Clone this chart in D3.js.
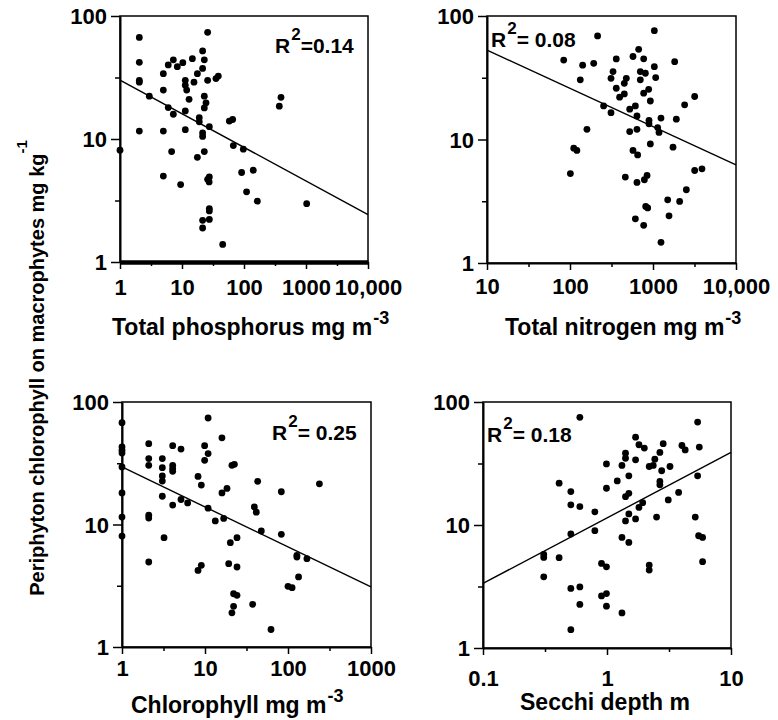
<!DOCTYPE html>
<html>
<head>
<meta charset="utf-8">
<script src="https://cdn.jsdelivr.net/npm/d3@7"></script>
<style>
  html, body { margin: 0; padding: 0; background: #fff; }
  svg { display: block; }
  text { font-family: "Liberation Sans", Arial, Helvetica, sans-serif; font-weight: bold; fill: #000; }
</style>
</head>
<body>
<svg id="chart" width="778" height="720"></svg>
<script>
// ---------- DATA ----------
// Panel A: Total phosphorus (mg m-3) vs periphyton chlorophyll
const tpX = [1,2.05,2.05,2.05,2.05,2.05,2.97,5.0,5.0,5.0,5.0,6.0,6.0,7.25,8.4,10.3,7.25,6.8,9.5,11.3,11.3,11.9,13,11.3,11.3,14.7,15.6,17.7,19,19,17.7,21.5,21.5,22.9,22.9,22.9,24.4,21.5,21.5,22.9,25.9,25.9,27.6,25.9,27.4,27.6,27.6,27.6,27.6,21.5,21.5,35.3,38.5,45.3,58,65.6,67.3,97.5,91.6,141,110,164,371,395,1025];
const tpY = [8.1,67,42,30,29,11.6,22.3,34,25,11.6,5.0,40,18,44,38.7,41.7,15.9,7.9,4.26,30,27.4,25,21,16.9,11.9,45,29,34,14.9,13.8,7.1,52,37.5,44,22.3,17.9,19.7,11.2,10.5,7.9,73.6,30,12.6,4.7,4.48,4.92,2.72,2.6,2.22,2.18,1.89,31,32.5,1.39,14,14.4,8.85,8.26,5.34,5.57,3.72,3.12,18.5,21.8,2.98];
const tpFitX = [1, 10000];
const tpFitY = [30.1, 2.43];

// Panel B: Total nitrogen (mg m-3)
const tnX = [84,101,111,121,133,142,160,193,215,254,312,312,330,361,361,396,451,451,477,464,524,524,574,613,574,613,641,641,653,641,672,703,703,772,772,809,787,772,848,817,863,887,895,895,929,929,1038,1038,1077,1138,1181,1248,1248,1503,1560,1742,1824,1910,2094,2405,2522,3177,3177,3891];
const tnY = [44,5.3,8.5,8.15,30.4,40,12.1,41.4,69,18.7,16.5,31.3,35.5,44.9,26,22,23.4,28.5,31.3,4.96,17.6,11.6,47,18.7,8.15,2.28,15.5,12.1,7.5,4.49,53.7,30.4,35.5,45,23.7,34.4,4.72,2.02,5.12,2.87,2.79,25.5,14.3,13.4,20.5,9.2,76,38.9,31.7,12.5,11.4,14.9,1.47,3.25,2.41,8.67,42.7,14.6,3.15,19.1,3.92,22.3,5.61,5.79];
const tnFitX = [10, 10000];
const tnFitY = [53, 6.24];

// Panel C: Chlorophyll (mg m-3)
const chlX = [1,1,1,1,1,1,1,1,2.1,2.1,2.1,2.1,2.1,2.1,3.06,3.06,3.06,3.06,3.06,3.21,4.08,4.08,4.08,4.08,4.08,5.14,5.14,6.18,8.24,8.24,9.03,9.03,9.9,9.9,10.9,10.9,10.9,13.3,16,16,16.8,18.4,19.3,20.2,21.1,21.1,22.6,22.1,24.3,22.1,24.3,24.3,37.5,39.3,41.5,43.1,47.7,62.4,83.1,83.1,100,112,128,128,134,169,239];
const chlY = [67.8,43,40.3,38.3,29.5,18.1,11.5,8.05,45.7,34.5,30.4,11.9,11.3,4.94,34.5,29.1,24.9,22.6,17,7.8,44,30.4,28.6,27.2,14.4,41.3,16,15,24.7,4.22,21,4.64,44,33.4,74,37.9,13.6,10.7,51,18.1,11.2,19.7,4.79,7.1,1.9,30.4,31,2.72,2.64,2.15,7.8,4.5,2.23,13.9,12.6,22.5,8.85,1.39,8.31,18.5,3.13,3.05,5.6,5.43,3.73,5.26,21.5];
const chlFitX = [1, 1000];
const chlFitY = [29.5, 3.09];

// Panel D: Secchi depth (m)
const secX = [0.309,0.309,0.309,0.411,0.411,0.511,0.511,0.511,0.511,0.511,0.604,0.604,0.604,0.604,0.798,0.798,0.903,0.903,0.99,0.99,0.99,0.99,0.99,1.21,1.32,1.32,1.32,1.41,1.41,1.41,1.41,1.5,1.5,1.5,1.5,1.7,1.7,1.7,1.81,1.81,1.94,2.0,2.19,2.19,2.19,2.36,2.43,2.51,2.67,2.67,2.67,2.76,2.84,3.12,3.22,3.78,4.02,4.27,5.15,5.38,5.38,5.55,5.48,5.9,5.9];
const secY = [5.77,5.45,3.79,21.9,5.42,18.7,14.6,8.45,3.05,1.41,75,14.1,3.14,2.26,12.8,9.0,4.87,2.65,31.4,19.9,4.57,2.77,2.19,22.8,30.5,7.93,1.93,38.4,34.9,17,10.8,25.1,18.1,12.3,7.22,51.8,33.9,11.2,44.9,13.9,15.2,42.2,29.9,4.72,4.3,30.5,34.3,11.6,38.9,22.6,21.2,27.6,45.8,16,29.9,18.4,44.3,40.8,11.6,68.7,25.1,43,8.18,7.93,5.03];
const secFitX = [0.1, 10];
const secFitY = [3.35, 38.9];

// Axis ticks and labels
const yMajor = [1, 10, 100];
const yMinor = [3.162, 31.62];
const tpTicks = [1, 10, 100, 1000, 10000];
const tpTickLabels = ["1", "10", "100", "1000", "10,000"];
const tpMinor = [3.162, 31.62, 316.2, 3162];
const tnTicks = [10, 100, 1000, 10000];
const tnTickLabels = ["10", "100", "1000", "10,000"];
const tnMinor = [31.62, 316.2, 3162];
const chlTicks = [1, 10, 100, 1000];
const chlTickLabels = ["1", "10", "100", "1000"];
const chlMinor = [3.162, 31.62, 316.2];
const secTicks = [0.1, 1, 10];
const secTickLabels = ["0.1", "1", "10"];
const secMinor = [0.3162, 3.162];

const r2Labels = ["=0.14", "= 0.08", "= 0.25", "= 0.18"];
const xTitles = ["Total phosphorus mg m", "Total nitrogen mg m", "Chlorophyll mg m", "Secchi depth m"];
const xTitleSups = ["-3", "-3", "-3", ""];
const yTitle = "Periphyton chlorophyll on macrophytes mg kg";
const yTitleSup = "-1";

// ---------- LAYOUT ----------
const panels = [
  { xs: tpX, ys: tpY, fx: tpFitX, fy: tpFitY, ticks: tpTicks, labels: tpTickLabels, minor: tpMinor,
    x0: 120, x1: 368, y0: 16, y1: 262, lblBase: 33, titleX: 112, titleY: 335, r2x: 275, r2y: 53, thick: true },
  { xs: tnX, ys: tnY, fx: tnFitX, fy: tnFitY, ticks: tnTicks, labels: tnTickLabels, minor: tnMinor,
    x0: 487, x1: 736, y0: 16, y1: 263, lblBase: 31, titleX: 505, titleY: 335, r2x: 491, r2y: 47, thick: false },
  { xs: chlX, ys: chlY, fx: chlFitX, fy: chlFitY, ticks: chlTicks, labels: chlTickLabels, minor: chlMinor,
    x0: 122, x1: 371, y0: 402, y1: 647, lblBase: 29, titleX: 131, titleY: 713, r2x: 272, r2y: 440, thick: false },
  { xs: secX, ys: secY, fx: secFitX, fy: secFitY, ticks: secTicks, labels: secTickLabels, minor: secMinor,
    x0: 483, x1: 731, y0: 402, y1: 648, lblBase: 38, titleX: 520, titleY: 710, r2x: 487, r2y: 442, thick: false }
];

const svg = d3.select("#chart");

panels.forEach((p, i) => {
  const x = d3.scaleLog().domain([p.ticks[0], p.ticks[p.ticks.length - 1]]).range([p.x0, p.x1]);
  const y = d3.scaleLog().domain([1, 100]).range([p.y1, p.y0]);
  const g = svg.append("g");

  // frame
  g.append("rect").attr("x", p.x0).attr("y", p.y0).attr("width", p.x1 - p.x0).attr("height", p.y1 - p.y0)
    .attr("fill", "none").attr("stroke", "#000").attr("stroke-width", 1.5);

  // y axis major
  const ya = g.append("g").attr("transform", `translate(${p.x0},0)`)
    .call(d3.axisLeft(y).tickValues(yMajor).tickFormat(d3.format("d")).tickSize(9).tickSizeOuter(0).tickPadding(4));
  ya.select(".domain").attr("stroke-width", 2);
  ya.selectAll(".tick line").attr("stroke-width", 1.5);
  ya.selectAll(".tick text").style("font-size", "22px").attr("dy", "0.36em").attr("fill", "#000");
  // y minor
  const ym = g.append("g").attr("transform", `translate(${p.x0},0)`)
    .call(d3.axisLeft(y).tickValues(yMinor).tickFormat("").tickSize(5).tickSizeOuter(0));
  ym.select(".domain").remove();
  ym.selectAll(".tick line").attr("stroke-width", 1.5);

  // x axis major
  const xa = g.append("g").attr("transform", `translate(0,${p.y1})`)
    .call(d3.axisBottom(x).tickValues(p.ticks).tickFormat((d, k) => p.labels[k]).tickSize(7).tickSizeOuter(0));
  xa.select(".domain").attr("stroke-width", p.thick ? 4.5 : 2);
  xa.selectAll(".tick line").attr("stroke-width", 1.5);
  xa.selectAll(".tick text").style("font-size", "22px").attr("y", p.lblBase).attr("dy", 0).attr("fill", "#000");
  // x minor
  const xm = g.append("g").attr("transform", `translate(0,${p.y1})`)
    .call(d3.axisBottom(x).tickValues(p.minor).tickFormat("").tickSize(4).tickSizeOuter(0));
  xm.select(".domain").remove();
  xm.selectAll(".tick line").attr("stroke-width", 1.5);

  // regression line
  const line = d3.line().x(d => x(d[0])).y(d => y(d[1]));
  g.append("path").datum(p.fx.map((v, k) => [v, p.fy[k]]))
    .attr("d", line).attr("fill", "none").attr("stroke", "#000").attr("stroke-width", 1.4);

  // points
  g.selectAll("circle.pt").data(p.xs.map((v, k) => [v, p.ys[k]])).enter().append("circle")
    .attr("class", "pt").attr("cx", d => x(d[0])).attr("cy", d => y(d[1])).attr("r", 3.4).attr("fill", "#000");

  // R^2 label
  const r2 = g.append("text").attr("x", p.r2x).attr("y", p.r2y).style("font-size", "21px");
  r2.append("tspan").text("R");
  r2.append("tspan").attr("dy", -13).attr("dx", 1).style("font-size", "17px").text("2");
  r2.append("tspan").attr("dy", 13).text(r2Labels[i]);

  // x title
  const xt = g.append("text").attr("x", p.titleX).attr("y", p.titleY).style("font-size", "23px");
  xt.append("tspan").text(xTitles[i]);
  if (xTitleSups[i]) xt.append("tspan").attr("dy", -11).attr("dx", 1).style("font-size", "18px").text(xTitleSups[i]);
});

// y title
const yt = svg.append("text").attr("transform", "translate(44,368) rotate(-90)")
  .attr("text-anchor", "middle").style("font-size", "20px");
yt.append("tspan").text(yTitle);
yt.append("tspan").attr("dy", -17).style("font-size", "15px").text(yTitleSup);
</script>
</body>
</html>
